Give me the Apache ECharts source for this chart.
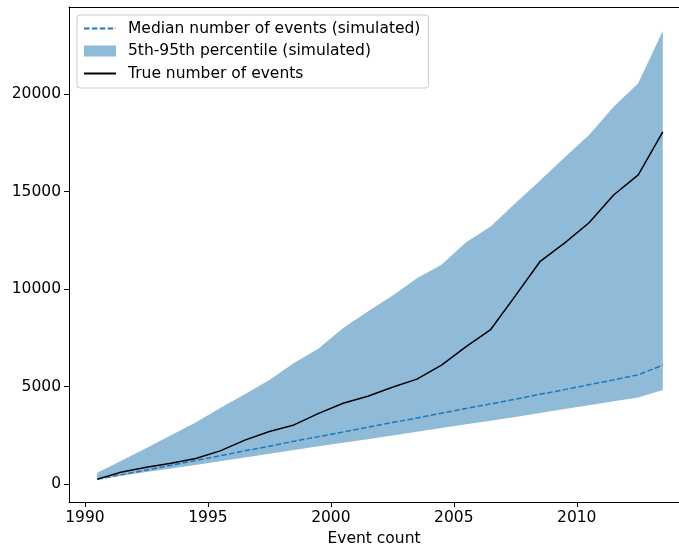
<!DOCTYPE html>
<html>
<head>
<meta charset="utf-8">
<script src="https://cdn.jsdelivr.net/npm/echarts@6/dist/echarts.min.js"></script>
<style>html,body{margin:0;padding:0;background:#fff;}#c{width:679px;height:547px;}</style>
</head>
<body>
<div id="c"></div>
<script>
const years = [1990.5,1991.5,1992.5,1993.5,1994.5,1995.5,1996.5,1997.5,1998.5,1999.5,2000.5,2001.5,2002.5,2003.5,2004.5,2005.5,2006.5,2007.5,2008.5,2009.5,2010.5,2011.5,2012.5,2013.5];
const medianSim = [240,480,720,960,1210,1450,1700,1940,2190,2430,2670,2910,3150,3390,3630,3870,4110,4350,4600,4840,5090,5340,5600,6100];
const p5Sim = [230,430,620,800,980,1170,1360,1550,1740,1930,2110,2300,2490,2680,2870,3060,3250,3440,3640,3840,4040,4240,4440,4820];
const p95Sim = [580,1200,1850,2500,3150,3900,4600,5330,6200,6950,8000,8850,9650,10550,11250,12400,13200,14400,15550,16750,17900,19350,20550,23250];
const trueEvents = [250,620,860,1060,1310,1700,2250,2690,3030,3620,4140,4500,4960,5380,6100,7040,7920,9650,11400,12350,13400,14820,15850,18060];
const xTicks = [1990,1995,2000,2005,2010];
const yTicks = [0,5000,10000,15000,20000];

const pairs = (ys) => years.map((x, i) => [x, ys[i]]);
const bandRows = years.map((x, i) => [x, p5Sim[i], p95Sim[i]]);

const FONT = 'DejaVu Sans';
const FS = 15.5;
const BAND = '#8fbbd9';
const noSym = {color: 'rgba(0,0,0,0)', borderColor: 'rgba(0,0,0,0)', borderWidth: 0};

const chart = echarts.init(document.getElementById('c'), null, {renderer: 'canvas'});
chart.setOption({
  animation: false,
  backgroundColor: '#ffffff',
  textStyle: {fontFamily: FONT},
  grid: {left: 69, top: 7, right: 0, bottom: 45, show: false, containLabel: false, outerBoundsMode: 'none'},
  legend: {
    orient: 'vertical', left: 77, top: 15,
    backgroundColor: 'rgba(255,255,255,0.8)', borderColor: '#cccccc', borderWidth: 1, borderRadius: 3,
    padding: [5, 8, 6, 6], itemGap: 5.5, itemWidth: 32, itemHeight: 11,
    textStyle: {fontFamily: FONT, fontSize: FS, color: '#000', lineHeight: 17, padding: [0, 0, 0, 7]},
    data: [
      {name: 'Median number of events (simulated)', itemStyle: noSym},
      {name: '5th-95th percentile (simulated)', icon: 'rect', itemStyle: {color: BAND, borderWidth: 0}},
      {name: 'True number of events', itemStyle: noSym}
    ]
  },
  xAxis: [{
    type: 'value', min: 1989.35, max: 2014.158,
    name: 'Event count', nameLocation: 'middle', nameGap: 29,
    nameTextStyle: {fontFamily: FONT, fontSize: FS, color: '#000'},
    splitLine: {show: false},
    axisLine: {show: true, onZero: false, lineStyle: {color: '#000', width: 1}},
    axisTick: {show: true, customValues: xTicks, length: 5, lineStyle: {color: '#000'}},
    axisLabel: {customValues: xTicks, margin: 8, fontFamily: FONT, fontSize: FS, color: '#000', formatter: v => String(v)}
  }, {
    type: 'value', position: 'top', min: 1989.35, max: 2014.158,
    splitLine: {show: false},
    axisLine: {show: true, onZero: false, lineStyle: {color: '#000', width: 1}},
    axisTick: {show: false}, axisLabel: {show: false}
  }],
  yAxis: {
    type: 'value', min: -923, max: 24462,
    splitLine: {show: false},
    axisLine: {show: true, onZero: false, lineStyle: {color: '#000', width: 1}},
    axisTick: {show: true, customValues: yTicks, length: 5, lineStyle: {color: '#000'}},
    axisLabel: {customValues: yTicks, margin: 8, fontFamily: FONT, fontSize: FS, color: '#000', formatter: v => String(v)}
  },
  series: [
    {
      name: '5th-95th percentile (simulated)', type: 'custom', data: bandRows,
      encode: {x: 0, y: [1, 2]}, color: BAND, silent: true, z: 1, clip: true,
      renderItem: function (params, api) {
        if (params.dataIndex !== 0) return null;
        const pts = [];
        for (let i = 0; i < bandRows.length; i++) pts.push(api.coord([bandRows[i][0], bandRows[i][2]]));
        for (let i = bandRows.length - 1; i >= 0; i--) pts.push(api.coord([bandRows[i][0], bandRows[i][1]]));
        return {type: 'polygon', shape: {points: pts}, style: {fill: BAND, stroke: null}};
      }
    },
    {
      name: 'Median number of events (simulated)', type: 'line', data: pairs(medianSim),
      symbol: 'none', color: '#1f77b4', lineStyle: {color: '#1f77b4', width: 1.5, type: [5.5, 2.4]}, z: 3
    },
    {
      name: 'True number of events', type: 'line', data: pairs(trueEvents),
      symbol: 'none', color: '#000000', lineStyle: {color: '#000000', width: 1.5}, z: 4
    }
  ]
});
</script>
</body>
</html>
